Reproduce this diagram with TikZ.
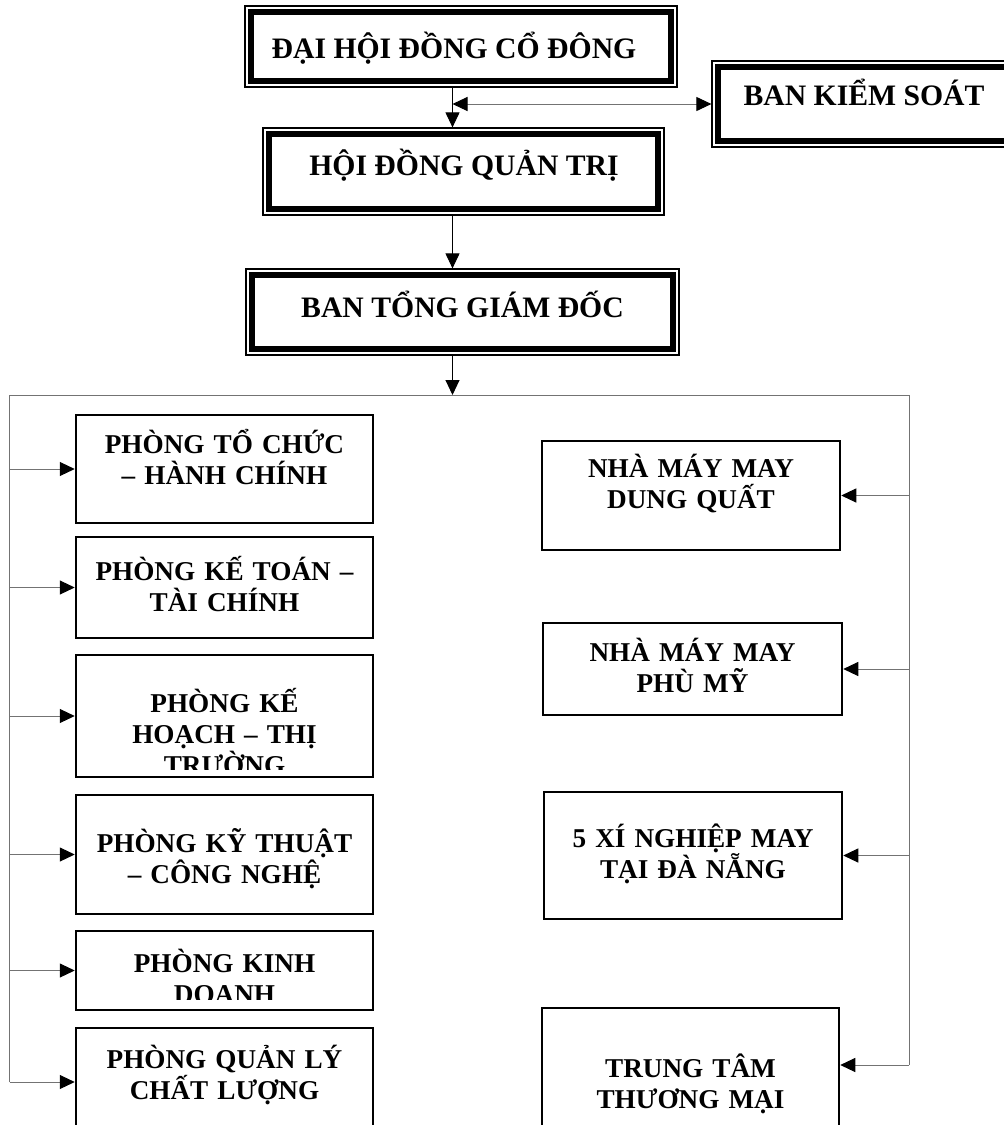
\documentclass[tikz,border=0pt]{standalone}
\usepackage{fontspec}
\setmainfont{Liberation Serif}
\usetikzlibrary{arrows.meta}

\tikzset{
  dblbox/.style={draw, line width=1.2pt, inner sep=0pt,
    path picture={\draw[line width=6pt]
      ([shift={(5.6pt,-5.6pt)}]path picture bounding box.north west) rectangle
      ([shift={(-5.6pt,5.6pt)}]path picture bounding box.south east);}},
  unitbox/.style={draw, line width=2.5pt, inner sep=0pt},
  toptext/.style={font=\fontsize{29.7}{34}\selectfont\bfseries, anchor=base, inner sep=0pt},
  unittext/.style={font=\fontsize{27.2}{31}\selectfont\bfseries, anchor=base, inner sep=0pt,
    text width=290pt, align=center},
  link/.style={draw=black!55, line width=1pt},
  spine/.style={draw=black, line width=1pt},
  toarr/.style={-{Triangle[length=15pt, width=14pt, color=black]}},
  botharr/.style={{Triangle[length=15pt, width=14pt, color=black]}-{Triangle[length=15pt, width=14pt, color=black]}},
}

\begin{document}
\begin{tikzpicture}[x=1pt, y=-1pt]
  \useasboundingbox (0,0) rectangle (1004,1125);
  \clip (0,0) rectangle (1004,1125);
  \fill[white] (0,0) rectangle (1004,1125);

  % ========== top: boards ==========
  \node[dblbox, minimum width=432pt, minimum height=81pt] (dhdcd) at (461,46.5) {};
  \node[dblbox, minimum width=320pt, minimum height=86pt] (bks) at (872,104) {};
  \node[dblbox, minimum width=401pt, minimum height=87pt] (hdqt) at (463.5,171.5) {};
  \node[dblbox, minimum width=433pt, minimum height=86pt] (btgd) at (462.5,312) {};

  \node[toptext] (dhdcd-t) at (454,58) {ĐẠI HỘI ĐỒNG CỔ ĐÔNG};
  \node[toptext] (bks-t) at (864,105) {BAN KIỂM SOÁT};
  \node[toptext] (hdqt-t) at (464,175) {HỘI ĐỒNG QUẢN TRỊ};
  \node[toptext] (btgd-t) at (462.5,317) {BAN TỔNG GIÁM ĐỐC};

  % the vertical line under the boards
  \coordinate (spine) at (452.5,0);
  \draw[spine, toarr] (dhdcd.south -| spine) -- (hdqt.north -| spine);
  \draw[link, botharr] (spine |- bks.west) -- (bks.west);
  \draw[spine, toarr] (hdqt.south -| spine) -- (btgd.north -| spine);

  % ========== left: departments ==========
  \node[unitbox, minimum width=297pt, minimum height=108pt] (ptc) at (224.5,469) {};
  \node[unitbox, minimum width=297pt, minimum height=101pt] (pkt) at (224.5,587.5) {};
  \node[unitbox, minimum width=297pt, minimum height=122pt] (pkh) at (224.5,716) {};
  \node[unitbox, minimum width=297pt, minimum height=119pt] (pkth) at (224.5,854.5) {};
  \node[unitbox, minimum width=297pt, minimum height=79pt] (pkd) at (224.5,970.5) {};
  \node[unitbox, minimum width=297pt, minimum height=108pt] (pql) at (224.5,1082) {};

  \node[unittext] (ptc-t) at (224.5,453) {PHÒNG TỔ CHỨC\\– HÀNH CHÍNH};
  \node[unittext] (pkt-t) at (224.5,580) {PHÒNG KẾ TOÁN –\\TÀI CHÍNH};
  % text that runs past the box is cut off
  \begin{scope}
    \clip ([shift={(3pt,-3pt)}]pkh.north west) rectangle ([shift={(-3pt,9pt)}]pkh.south east);
    \node[unittext] (pkh-t) at (224.5,712) {PHÒNG KẾ\\HOẠCH – THỊ\\TRƯỜNG};
  \end{scope}
  \node[unittext] (pkth-t) at (224.5,852) {PHÒNG KỸ THUẬT\\– CÔNG NGHỆ};
  \begin{scope}
    \clip ([shift={(3pt,-3pt)}]pkd.north west) rectangle ([shift={(-3pt,12pt)}]pkd.south east);
    \node[unittext] (pkd-t) at (224.5,972) {PHÒNG KINH\\DOANH};
  \end{scope}
  \node[unittext] (pql-t) at (224.5,1068) {PHÒNG QUẢN LÝ\\CHẤT LƯỢNG};

  % ========== right: factories ==========
  \node[unitbox, minimum width=298pt, minimum height=109pt] (nmdq) at (691,495.5) {};
  \node[unitbox, minimum width=299pt, minimum height=92pt] (nmpm) at (692.5,669) {};
  \node[unitbox, minimum width=298pt, minimum height=127pt] (xn) at (693,855.5) {};
  \node[unitbox, minimum width=297pt, minimum height=142pt] (ttm) at (690.5,1079) {};

  \node[unittext] (nmdq-t) at (691,477) {NHÀ MÁY MAY\\DUNG QUẤT};
  \node[unittext] (nmpm-t) at (692.5,661) {NHÀ MÁY MAY\\PHÙ MỸ};
  \node[unittext] (xn-t) at (693,847) {5 XÍ NGHIỆP MAY\\TẠI ĐÀ NẴNG};
  \node[unittext] (ttm-t) at (690.5,1077) {TRUNG TÂM\\THƯƠNG MẠI};

  % ========== connectors ==========
  \coordinate (busl) at (9.5,395);
  \coordinate (busr) at (909,395);
  \coordinate (busl-end) at (9.5,1082);
  \coordinate (busr-end) at (909,1065);

  \draw[spine, toarr] (btgd.south -| spine) -- (busl -| spine);
  \draw[link] (busl-end) -- (busl) -- (busr) -- (busr-end);

  \foreach \b in {ptc,pkt,pkh,pkth,pkd,pql}
    \draw[link, toarr] (busl |- \b.west) -- (\b.west);
  \foreach \b in {nmdq,nmpm,xn}
    \draw[link, toarr] (busr |- \b.east) -- (\b.east);
  \draw[link, toarr] (busr-end) -- (busr-end -| ttm.east);

\end{tikzpicture}
\end{document}
